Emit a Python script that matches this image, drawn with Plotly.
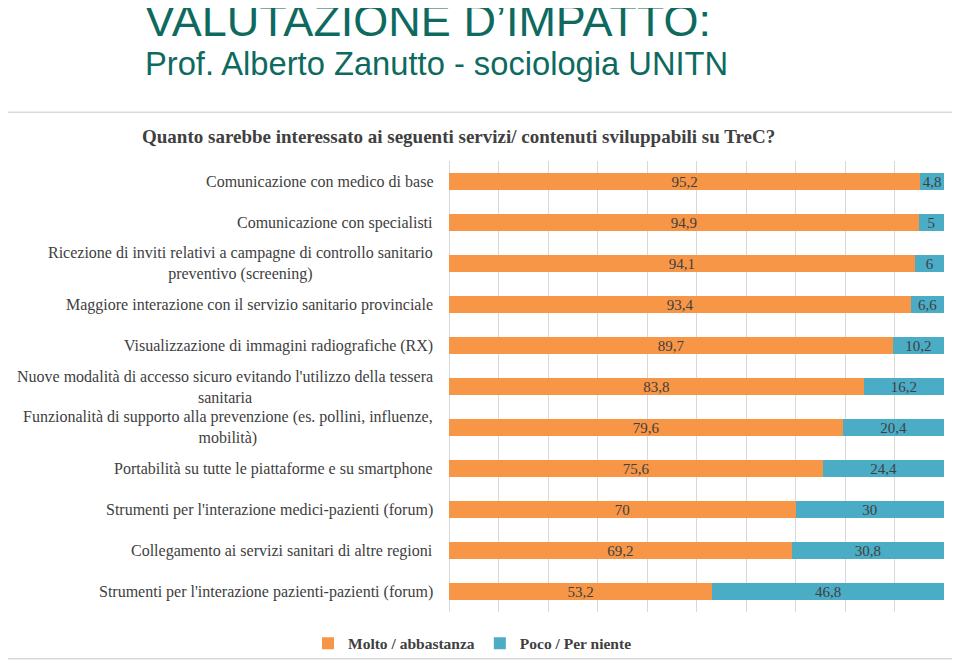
import plotly.graph_objects as go

categories = [
    "Comunicazione con medico di base",
    "Comunicazione con specialisti",
    "Ricezione di inviti relativi a campagne di controllo sanitario<br>preventivo (screening)",
    "Maggiore interazione con il servizio sanitario provinciale",
    "Visualizzazione di immagini radiografiche (RX)",
    "Nuove modalità di accesso sicuro evitando l'utilizzo della tessera<br>sanitaria",
    "Funzionalità di supporto alla prevenzione (es. pollini, influenze,<br>mobilità)",
    "Portabilità su tutte le piattaforme e su smartphone",
    "Strumenti per l'interazione medici-pazienti (forum)",
    "Collegamento ai servizi sanitari di altre regioni",
    "Strumenti per l'interazione pazienti-pazienti (forum)",
]
molto = [95.2, 94.9, 94.1, 93.4, 89.7, 83.8, 79.6, 75.6, 70, 69.2, 53.2]
poco = [4.8, 5, 6, 6.6, 10.2, 16.2, 20.4, 24.4, 30, 30.8, 46.8]
series_names = ["Molto / abbastanza", "Poco / Per niente"]

ORANGE = "#F79646"
BLUE = "#4BACC6"
TXT = "#404040"
HEAD = "#0E6A5F"
SERIF = "Liberation Serif, Times New Roman, serif"
SANS = "Liberation Sans, Arial, sans-serif"

W, H = 960, 665
OFF = 8  # page body margin offset
# target plot area in screenshot pixels
L, R, T, B = 449, 944, 161, 615


def px_x(x):
    return (x - L) / (R - L)


def px_y(y):
    return (B - y) / (B - T)


def fmt(v):
    return f"{v:g}".replace(".", ",")


keys = [c.replace("<br>", " ") for c in categories]

fig = go.Figure()
for name, vals, col in [(series_names[0], molto, ORANGE), (series_names[1], poco, BLUE)]:
    fig.add_trace(go.Bar(
        y=keys, x=vals, name=name, orientation="h",
        marker=dict(color=col, line=dict(width=0)),
        text=[fmt(v) for v in vals],
        textposition="inside", insidetextanchor="middle", textangle=0,
        textfont=dict(family=SERIF, size=15, color=TXT),
        width=0.4,
    ))

annotations = []
for k, c in zip(keys, categories):
    annotations.append(dict(
        x=px_x(435), xref="paper", y=k, yref="y", text=c,
        xanchor="right", yanchor="middle", align="center", showarrow=False,
        font=dict(family=SERIF, size=16, color=TXT),
    ))

annotations.append(dict(
    x=px_x(458), xref="paper", y=px_y(136), yref="paper",
    text="<b>Quanto sarebbe interessato ai seguenti servizi/ contenuti sviluppabili su TreC?</b>",
    xanchor="center", yanchor="middle", showarrow=False,
    font=dict(family=SERIF, size=19, color=TXT),
))
annotations.append(dict(
    x=px_x(143), xref="paper", y=px_y(19.5), yref="paper",
    text="VALUTAZIONE D’IMPATTO:",
    xanchor="left", yanchor="middle", showarrow=False,
    font=dict(family=SANS, size=45, color=HEAD),
))
annotations.append(dict(
    x=px_x(143), xref="paper", y=px_y(62.5), yref="paper",
    text="Prof. Alberto Zanutto - sociologia UNITN",
    xanchor="left", yanchor="middle", showarrow=False,
    font=dict(family=SANS, size=32.7, color=HEAD),
))

fig.update_layout(
    width=W, height=H, barmode="stack",
    margin=dict(l=L - OFF, r=W - (R - OFF), t=T - OFF, b=H - (B - OFF), pad=0),
    plot_bgcolor="white", paper_bgcolor="white",
    showlegend=True,
    legend=dict(orientation="h", x=px_x(308), xanchor="left", y=px_y(647), yanchor="middle",
                font=dict(family=SERIF, size=15.5, color=TXT, weight="bold"), itemwidth=30,
                traceorder="normal", bgcolor="rgba(0,0,0,0)"),
    uniformtext=dict(minsize=14, mode="show"),
    annotations=annotations,
    shapes=[dict(type="rect", xref="paper", yref="paper",
                 x0=px_x(3), x1=px_x(975), y0=px_y(662), y1=px_y(112),
                 line=dict(color="#D9D9D9", width=1.5), layer="below")],
)
fig.update_xaxes(range=[0, 100], dtick=10, showgrid=True, gridcolor="#D9D9D9", gridwidth=1,
                 zeroline=True, zerolinecolor="#D9D9D9", zerolinewidth=1,
                 showticklabels=False, showline=False, fixedrange=True)
fig.update_yaxes(categoryorder="array", categoryarray=keys, autorange="reversed",
                 showticklabels=False, showgrid=False, zeroline=False, showline=False)

fig.write_html("out.html")
